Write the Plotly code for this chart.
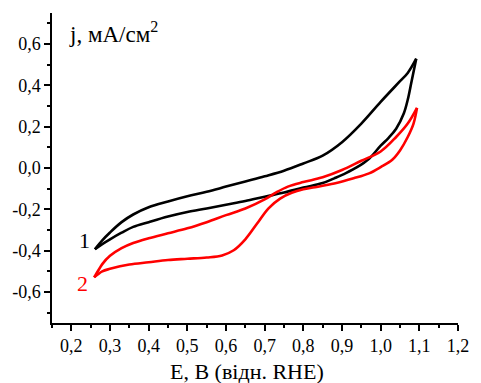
import plotly.graph_objects as go

# Curve 1 (black): forward (upper) branch and return (lower) branch
e1_up = [0.261, 0.28, 0.30, 0.33, 0.36, 0.40, 0.45, 0.50, 0.55, 0.60, 0.65,
         0.70, 0.75, 0.80, 0.85, 0.90, 0.95, 1.00, 1.05, 1.07, 1.092]
j1_up = [-0.393, -0.350, -0.312, -0.262, -0.225, -0.190, -0.162, -0.137, -0.115, -0.090, -0.065,
         -0.040, -0.013, 0.022, 0.060, 0.125, 0.215, 0.320, 0.420, 0.460, 0.529]
e1_low = [1.092, 1.08, 1.07, 1.06, 1.04, 1.02, 1.00, 0.97, 0.94, 0.91, 0.88, 0.85,
          0.80, 0.75, 0.70, 0.65, 0.60, 0.55, 0.50, 0.45, 0.40, 0.36, 0.33, 0.30, 0.28, 0.261]
j1_low = [0.529, 0.420, 0.330, 0.265, 0.190, 0.145, 0.108, 0.045, 0.005, -0.025, -0.050, -0.073,
          -0.095, -0.119, -0.139, -0.160, -0.178, -0.196, -0.213, -0.235, -0.262, -0.285,
          -0.313, -0.345, -0.368, -0.393]

# Curve 2 (red): upper branch and lower branch (with the reduction wave)
e2_up = [0.259, 0.27, 0.28, 0.30, 0.33, 0.36, 0.40, 0.45, 0.50, 0.55, 0.60, 0.65,
         0.70, 0.73, 0.76, 0.80, 0.85, 0.90, 0.95, 1.00, 1.04, 1.07, 1.094]
j2_up = [-0.529, -0.495, -0.465, -0.425, -0.388, -0.363, -0.340, -0.316, -0.292, -0.262,
         -0.228, -0.196, -0.152, -0.118, -0.090, -0.068, -0.045, -0.010, 0.035, 0.080,
         0.150, 0.215, 0.291]
e2_low = [1.094, 1.085, 1.07, 1.05, 1.03, 1.00, 0.97, 0.93, 0.88, 0.83, 0.80, 0.77,
          0.74, 0.71, 0.68, 0.65, 0.62, 0.59, 0.55, 0.50, 0.45, 0.40, 0.35, 0.30, 0.28, 0.259]
j2_low = [0.291, 0.215, 0.150, 0.085, 0.040, 0.004, -0.026, -0.050, -0.075, -0.093, -0.103,
          -0.120, -0.148, -0.195, -0.270, -0.345, -0.398, -0.423, -0.433, -0.439, -0.445,
          -0.456, -0.467, -0.488, -0.500, -0.529]

x_ticks = [0.2, 0.3, 0.4, 0.5, 0.6, 0.7, 0.8, 0.9, 1.0, 1.1, 1.2]
x_labels = ["0,2", "0,3", "0,4", "0,5", "0,6", "0,7", "0,8", "0,9", "1,0", "1,1", "1,2"]
x_minor = [0.15, 0.25, 0.35, 0.45, 0.55, 0.65, 0.75, 0.85, 0.95, 1.05, 1.15]
y_ticks = [-0.6, -0.4, -0.2, 0.0, 0.2, 0.4, 0.6]
y_labels = ["-0,6", "-0,4", "-0,2", "0,0", "0,2", "0,4", "0,6"]
y_minor = [-0.7, -0.5, -0.3, -0.1, 0.1, 0.3, 0.5, 0.7]

FONT = "Times New Roman, Liberation Serif, DejaVu Serif, serif"

fig = go.Figure()
for ex, jy, col in [(e1_up, j1_up, "#000000"), (e1_low, j1_low, "#000000"),
                    (e2_up, j2_up, "#ff0000"), (e2_low, j2_low, "#ff0000")]:
    fig.add_trace(go.Scatter(x=ex, y=jy, mode="lines",
                             line=dict(color=col, width=2.6, shape="spline", smoothing=1.0),
                             showlegend=False, hoverinfo="skip"))

axis_common = dict(showline=True, linecolor="#000000", linewidth=1.5, mirror=False,
                   ticks="outside", ticklen=6, tickwidth=1.5, tickcolor="#000000",
                   showgrid=False, zeroline=False,
                   tickfont=dict(family=FONT, size=18, color="#000000"))

fig.update_layout(
    width=481, height=383,
    margin=dict(l=52, r=13, t=13, b=60),
    paper_bgcolor="white", plot_bgcolor="white",
    font=dict(family=FONT, size=18, color="#000000"),
    xaxis=dict(range=[0.15, 1.2], tickmode="array", tickvals=x_ticks, ticktext=x_labels,
               minor=dict(tickmode="array", tickvals=x_minor, ticks="outside",
                          ticklen=3, tickwidth=1.5, tickcolor="#000000", showgrid=False),
               **axis_common),
    yaxis=dict(range=[-0.75, 0.75], tickmode="array", tickvals=y_ticks, ticktext=y_labels,
               minor=dict(tickmode="array", tickvals=y_minor, ticks="outside",
                          ticklen=3, tickwidth=1.5, tickcolor="#000000", showgrid=False),
               **axis_common),
    annotations=[
        dict(x=0.19, y=0.655, xref="x", yref="y", text="j, мА/см<sup>2</sup>",
             showarrow=False, xanchor="left", yanchor="middle",
             font=dict(family=FONT, size=23, color="#000000")),
        dict(x=0.655, y=-0.155, xref="x", yref="paper", text="E, B (відн. RHE)",
             showarrow=False, xanchor="center", yanchor="middle",
             font=dict(family=FONT, size=22, color="#000000")),
        dict(x=0.233, y=-0.35, xref="x", yref="y", text="1",
             showarrow=False, xanchor="center", yanchor="middle",
             font=dict(family=FONT, size=22, color="#000000")),
        dict(x=0.228, y=-0.558, xref="x", yref="y", text="2",
             showarrow=False, xanchor="center", yanchor="middle",
             font=dict(family=FONT, size=22, color="#ff0000")),
    ],
)

fig.write_html("out.html")
